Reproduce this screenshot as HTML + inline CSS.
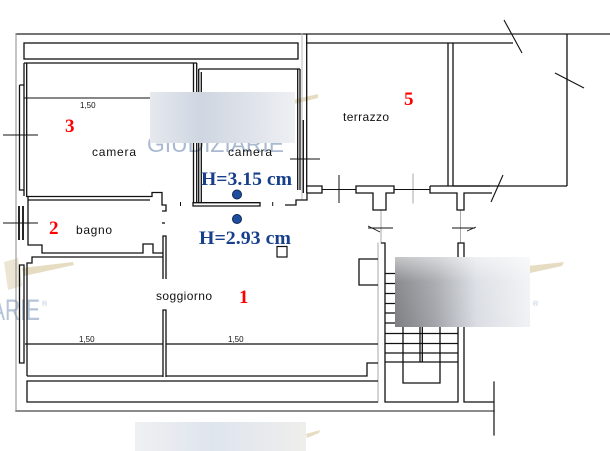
<!DOCTYPE html>
<html><head><meta charset="utf-8"><style>
html,body{margin:0;padding:0;background:#fff;}
svg{display:block;}
.t{font-family:"Liberation Sans",Arial,sans-serif;font-size:12px;fill:#111;}
.s{font-family:"Liberation Sans",Arial,sans-serif;font-size:8px;fill:#111;}
.r{font-family:"Liberation Serif","Times New Roman",serif;font-weight:bold;font-size:19px;fill:#f00;}
.h{font-family:"Liberation Serif","Times New Roman",serif;font-weight:bold;font-size:19px;fill:#173f8c;}
</style></head><body>
<svg width="610" height="451" viewBox="0 0 610 451" xmlns="http://www.w3.org/2000/svg">
<defs>
<linearGradient id="g1" x1="0" x2="1" y1="0" y2="0">
<stop offset="0" stop-color="#e6e9ee"/><stop offset="0.35" stop-color="#cfd6e1"/><stop offset="0.7" stop-color="#dfe3ea"/><stop offset="1" stop-color="#eef0f3"/>
</linearGradient>
<linearGradient id="g2" x1="0" x2="1" y1="0" y2="0">
<stop offset="0" stop-color="#7d7f83"/><stop offset="0.3" stop-color="#a2a5aa"/><stop offset="0.6" stop-color="#d9dde3"/><stop offset="1" stop-color="#f1f2f4"/>
</linearGradient>
<linearGradient id="g2v" x1="0" x2="0" y1="0" y2="1">
<stop offset="0" stop-color="#fff" stop-opacity="0.55"/><stop offset="0.35" stop-color="#fff" stop-opacity="0.1"/><stop offset="1" stop-color="#fff" stop-opacity="0"/>
</linearGradient>
<linearGradient id="g3" x1="0" x2="1" y1="0" y2="0">
<stop offset="0" stop-color="#eff0f2"/><stop offset="0.45" stop-color="#dfe5ee"/><stop offset="1" stop-color="#eeeeec"/>
</linearGradient>
</defs>

<!-- watermarks (under drawing) -->
<text x="147" y="152" font-family="Liberation Sans,Arial,sans-serif" font-size="23" fill="#a9bad0" textLength="137" lengthAdjust="spacingAndGlyphs">GIUDIZIARIE</text>
<text x="-9" y="320" font-family="Liberation Sans,Arial,sans-serif" font-size="30" fill="#b5c4d8" textLength="49" lengthAdjust="spacingAndGlyphs">ARIE</text>
<text x="42" y="306" font-family="Liberation Sans,Arial,sans-serif" font-size="7" fill="#b5c4d8">®</text>
<text x="533" y="306" font-family="Liberation Sans,Arial,sans-serif" font-size="7" fill="#b5c4d8">®</text>
<g fill="#e6dcc2">
<path d="M22 268 L73 262 L74 265 L24 276 Z"/>
<path d="M4 262 L18 258 L22 286 L8 290 Z" fill="#ece5d3"/>
<path d="M528 266 L564 262 L562 266 L530 273 Z"/>
<path d="M292 100 L318 94 L318 98 L294 104 Z"/>
<path d="M306 434 L320 430 L319 433 L307 438 Z"/>
</g>

<!-- outer frame -->
<g fill="none" stroke-linecap="square">
<path d="M16 34 H610" stroke="#222" stroke-width="1.2"/>
<path d="M16 34 V411" stroke="#8a8a8a" stroke-width="1"/>
<path d="M16 411 H494" stroke="#666" stroke-width="1.4"/>
<path d="M494 382 V435" stroke="#111" stroke-width="1.2"/>
<path d="M302 34 V200" stroke="#bbb" stroke-width="1"/>
<path d="M381 210 V243 M460.5 210 V243 M378 243 V402 M413 174 V203" stroke="#aaa" stroke-width="1"/>
</g>

<g fill="none" stroke="#111" stroke-width="1.3">
<!-- top band -->
<rect x="24" y="43" width="274" height="16"/>
<!-- right top verticals -->
<path d="M306.7 34 V193 M303.3 120 V193 M297.7 69 V190 M300 69 V190"/>
<!-- terrazzo -->
<path d="M306 43 H513 M448 43 V186 M453 43 V186 M567 34 V186 M453 186 H567"/>
<path d="M504 20 L522 53 M555 73 L584 88 M503 175 L491 202" stroke-width="1.1"/>
<!-- terrazzo bottom wall -->
<path d="M306 186 H322 V193 H307 V200 H296 V205 H285"/>
<path d="M322 189.5 H356 M394 189.5 H430" stroke-width="1"/>
<path d="M356 186 H394 V193 H386 V210 H373 V193 H356 Z"/>
<path d="M430 186 H490 M430 186 V193 H457 V210 H464 V193 H492"/>
<path d="M339 175 V203" stroke-width="1"/>
<path d="M290 159 H320" stroke-width="1"/>
<!-- stair door marks -->
<path d="M368 228 H393 M368 226 L380 232 M452 228 H475 M467 231 L476 227" stroke-width="0.9"/>
<!-- stair -->
<path d="M381 243 H385 V402 H458 V243 H464 V402 H494"/>
<path d="M385 273.5 H458 M385 283.5 H458 M385 293.5 H458 M385 303.5 H458 M385 313 H458 M385 323 H458 M385 333.5 H458 M385 343.5 H458 M385 353 H458 M385 362 H458"/>
<path d="M403 273 V383 H440 V273 M420 273 V362 M422.3 273 V362"/>
<path d="M378 259 H359 V285 H378"/>
<!-- soggiorno -->
<path d="M25 344 H163 M166 344 H378"/>
<path d="M27 376 H163 M166 376 H367 V363 H378"/>
<path d="M378 381 H27 V402 H378"/>
<path d="M163 257 H32 V263 H27 V376"/>
<path d="M19.5 265 V363 H24 V265 Z"/>
<path d="M163 279 V236 H166 V279 M163 377 V310 H166 V377"/>
<path d="M162 223 H165"/>
<!-- bagno -->
<path d="M28 197 V245 H42 V253 H143 V244 H153 V253 H163"/>
<path d="M28 200 H150"/>
<path d="M19 206 V240 M23 206 V240" stroke-width="1.8"/>
<path d="M3 223 H38" stroke-width="1"/>
<!-- camera 3 -->
<path d="M24 63 H197 M24 63 V196 M26.7 63 V196"/>
<path d="M19.5 85 V190 H24 M19.5 85 H24"/>
<path d="M3 135 H38" stroke-width="1"/>
<path d="M24 98 H150" stroke-width="1"/>
<path d="M26 196.5 H152 V192.5 H162 V205 H166 V211 H162"/>
<path d="M193.5 63 V203 M196.7 63 V203 M198.7 69 V203 M201.3 72 V203"/>
<!-- camera 2 -->
<path d="M198.7 69 H300"/>
<path d="M193 202.7 H260 V206 H193 Z"/>
<path d="M180.5 202 V206 M272.7 202 V206" stroke-width="1"/>
</g>

<!-- blurred patches -->
<rect x="150" y="92" width="145" height="51" fill="url(#g1)"/>
<rect x="395" y="257" width="135" height="70" fill="url(#g2)"/>
<rect x="395" y="257" width="135" height="70" fill="url(#g2v)"/>
<rect x="135" y="422" width="171" height="29" fill="url(#g3)"/>

<!-- labels -->
<text class="s" x="80" y="108">1,50</text>
<text class="s" x="79" y="342">1,50</text>
<text class="s" x="228" y="342">1,50</text>
<text class="t" x="92" y="156" textLength="44">camera</text>
<text class="t" x="228" y="156" textLength="44">camera</text>
<text class="t" x="343" y="121" textLength="46">terrazzo</text>
<text class="t" x="76" y="234" textLength="36">bagno</text>
<text class="t" x="156" y="300" textLength="56">soggiorno</text>
<text class="r" x="65" y="132">3</text>
<text class="r" x="404" y="105">5</text>
<text class="r" x="49" y="234">2</text>
<text class="r" x="239" y="303">1</text>
<text class="h" x="201" y="185" textLength="91" lengthAdjust="spacingAndGlyphs">H=3.15 cm</text>
<text class="h" x="199" y="244" textLength="92" lengthAdjust="spacingAndGlyphs">H=2.93 cm</text>
<circle cx="237" cy="194.5" r="4.5" fill="#1f4e9c" stroke="#0b2658" stroke-width="1"/>
<circle cx="237" cy="219" r="4.5" fill="#1f4e9c" stroke="#0b2658" stroke-width="1"/>
<rect x="277" y="246.5" width="10" height="10.5" fill="#fff" stroke="#111" stroke-width="1.2"/>
</svg>
</body></html>
